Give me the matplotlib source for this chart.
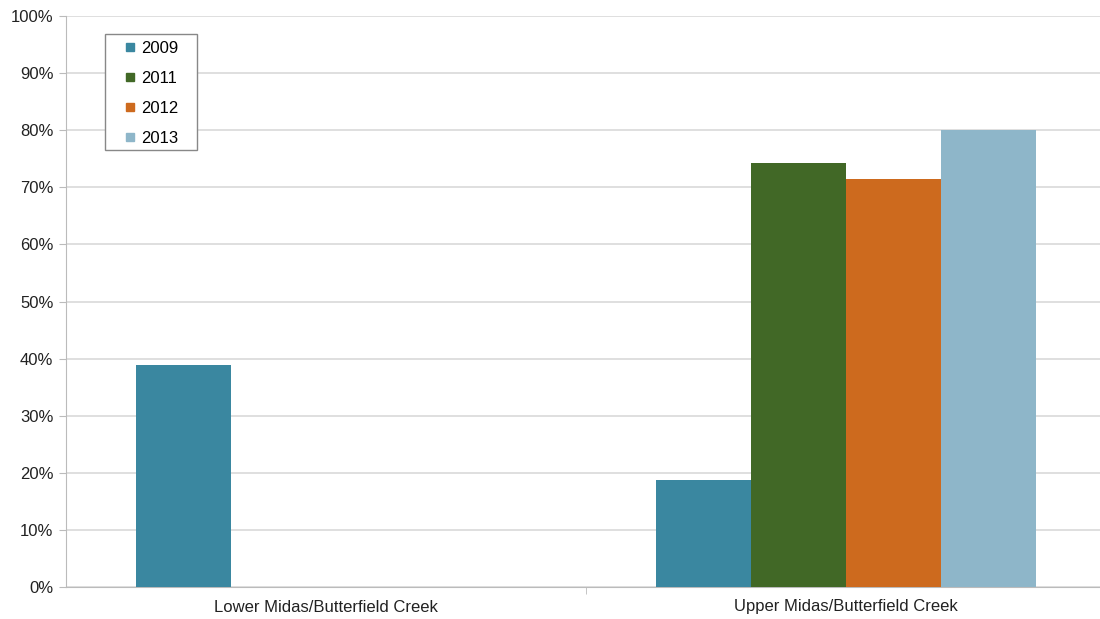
import matplotlib
matplotlib.use("Agg")
import matplotlib.pyplot as plt
from matplotlib.lines import Line2D
from matplotlib.patches import Rectangle
import numpy as np

categories = ["Lower Midas/Butterfield Creek", "Upper Midas/Butterfield Creek"]
years = ["2009", "2011", "2012", "2013"]
values = {
    "2009": [38.9, 18.8],
    "2011": [np.nan, 74.3],
    "2012": [np.nan, 71.4],
    "2013": [np.nan, 80.0],
}
colors = {"2009": "#3A87A0", "2011": "#416826", "2012": "#CD6A1E", "2013": "#8EB6C9"}

plt.rcParams['font.family'] = ['Liberation Sans', 'DejaVu Sans']

W, H = 1100, 619
fig = plt.figure(figsize=(11, 6.19), dpi=100)
ax = fig.add_axes([66/W, 1-587/H, 1040/W, 571/H])

x = np.arange(len(categories))
w = 380/520/4
for i, y in enumerate(years):
    v = np.array(values[y], dtype=float)
    ax.bar(x + (i - 1.5) * w, np.nan_to_num(v), width=w, color=colors[y], zorder=3,
           edgecolor='none')

ax.set_xlim(-0.5, 1.5)
ax.set_ylim(0, 100)
ax.set_yticks(np.arange(0, 101, 10))
ax.set_yticklabels([f"{t}%" for t in range(0, 101, 10)], fontsize=12, color='#222222')
ax.set_xticks(x)
ax.set_xticklabels(categories, fontsize=12, color='#222222')
ax.tick_params(axis='x', length=0, pad=9)
ax.tick_params(axis='y', length=5, color='#BBBBBB', pad=4)
ax.set_xticks([0.5], minor=True)
ax.tick_params(axis='x', which='minor', length=5, color='#BBBBBB')

ax.grid(axis='y', color='#D9D9D9', linewidth=1.2, zorder=0)
for s in ['top', 'right']:
    ax.spines[s].set_visible(False)
ax.spines['left'].set_color('#BBBBBB')
ax.spines['bottom'].set_color('#BBBBBB')

# legend box
ax.add_patch(Rectangle((105/W, 1-150/H), 92/W, 116/H, transform=fig.transFigure,
                       facecolor='white', edgecolor='#888888', linewidth=1.0, zorder=4,
                       clip_on=False))

handles = [Line2D([], [], marker='s', linestyle='none', markersize=6,
                  markerfacecolor=colors[y], markeredgecolor=colors[y]) for y in years]
leg = ax.legend(handles, years, loc='upper left', bbox_to_anchor=(122/W, 1-41/H),
                bbox_transform=fig.transFigure, borderaxespad=0, borderpad=0,
                frameon=False, fontsize=12, labelspacing=0.9,
                handlelength=1.0, handletextpad=0.15)
leg.set_zorder(5)

fig.savefig("out.png", dpi=100)
